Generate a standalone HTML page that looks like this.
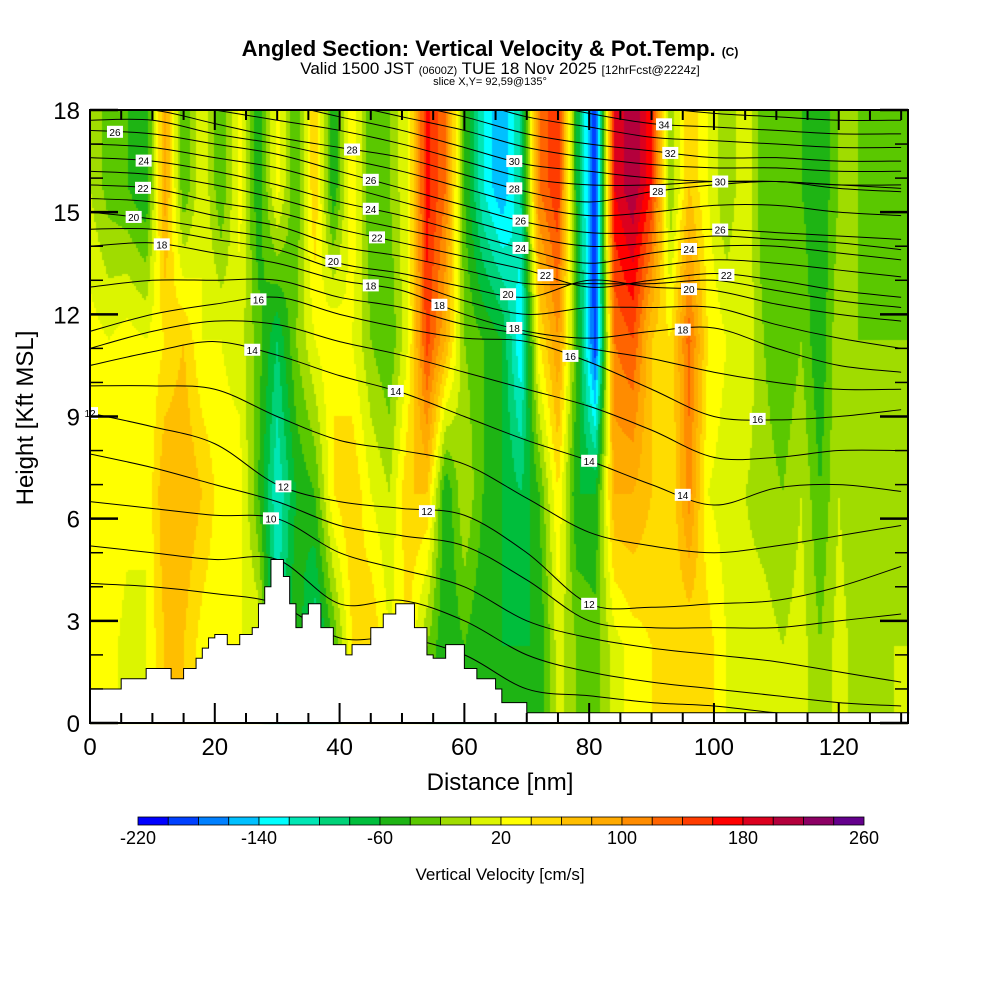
<!DOCTYPE html>
<html><head><meta charset="utf-8"><style>
body{margin:0;background:#fff;width:1000px;height:1000px;overflow:hidden;font-family:"Liberation Sans",sans-serif}
.t{position:absolute;white-space:nowrap;color:#000}
</style></head><body>
<div class="t" style="left:0;width:980px;text-align:center;top:36px;font-size:22px;font-weight:bold">Angled Section: Vertical Velocity &amp; Pot.Temp. <span style="font-size:12px">(C)</span></div>
<div class="t" style="left:0;width:1000px;text-align:center;top:59px;font-size:17px;line-height:19px">Valid 1500 JST <span style="font-size:11px">(0600Z)</span> TUE 18 Nov 2025 <span style="font-size:12px">[12hrFcst@2224z]</span></div>
<div class="t" style="left:0;width:980px;text-align:center;top:76px;font-size:11px">slice X,Y= 92,59@135°</div>
<canvas id="cv" width="1000" height="1000" style="position:absolute;left:0;top:0"></canvas>
<svg id="sv" width="1000" height="1000" style="position:absolute;left:0;top:0"></svg>
<script>
const xs=[0,3,6,9,12,15,18,21,24,27,30,33,36,39,42,45,48,51,54,57,60,63,66,69,72,75,78,81,84,87,90,93,96,99,102,105,108,111,114,117,120,123,126,129,132];
const rowH=[15.75,11.25,6.75,2.25];
const wTop=[0,-30,-40,-60,90,-40,20,-40,30,-60,30,-40,60,-60,40,-40,-20,20,170,120,-40,-120,-160,-100,120,160,-60,-200,180,220,160,-20,60,20,-20,20,-40,-20,-40,-60,-20,-20,-40,-30,-20];
const wUp=[30,20,30,20,40,60,20,20,10,-30,-80,-20,20,40,20,-20,-40,20,150,80,-20,-40,-60,-140,40,100,-40,-200,120,140,60,40,130,40,20,20,-20,-40,-20,-60,0,-20,-20,-20,-20];
const wMid=[40,40,30,20,80,80,60,30,30,-40,-120,-60,-40,40,60,20,0,60,60,-60,0,-40,-60,-80,-40,40,-60,-60,80,80,60,40,110,20,10,0,-10,-20,0,-40,0,-20,-20,-10,0];
const wLow=[30,30,10,20,60,60,30,20,20,20,-100,-40,-100,-40,40,60,20,40,-20,-60,-40,-60,-60,-60,-60,10,-20,-30,10,30,40,40,40,50,20,10,10,0,10,-20,10,-10,-10,0,0];
const levels=[-220,-200,-180,-160,-140,-120,-100,-80,-60,-40,-20,0,20,40,60,80,100,120,140,160,180,200,220,240,260];
const colors=["#0000ff","#0040ff","#0080ff","#00c0ff","#00ffff","#00e6b4","#00d278","#00be3c","#1eb414","#5ac800","#a0dc00","#dcf500","#ffff00","#ffdc00","#ffbe00","#ffaa00","#ff8c00","#ff6400","#ff3c00","#ff0000","#dc001e","#b4003c","#8c0064","#64008c"];
const terrX=[0,5,9,13,15,17,18,19,20,22,24,26,27,28,29,31,32,33,34,35,37,39,41,42,45,47,49,52,54,55,57,60,62,65,66,70,131.2];
const terrH=[1.0,1.3,1.6,1.3,1.6,1.9,2.2,2.5,2.6,2.3,2.6,2.8,3.5,4.0,4.8,4.3,3.5,2.8,3.2,3.5,2.8,2.3,2.0,2.3,2.8,3.2,3.5,2.8,2.0,1.9,2.3,1.6,1.3,1.0,0.6,0.3,0.3];
const thetaVals=[8,9,10,11,12,13,14,15,16,17,18,19,20,21,22,23,24,25,26,27,28,29,30,31,32,33,34,35];
const thetaX=[0,10,20,30,40,50,60,70,80,90,100,110,120,130];
const th8=[4.1,4.0,3.8,3.5,2.5,2.5,2.0,1.0,0.8,0.6,0.5,0.3,0.2,0.2];
const th9=[5.2,5.0,4.8,4.8,3.5,3.6,3.0,2.0,1.5,1.2,1.0,0.8,0.6,0.5];
const th10=[6.5,6.3,6.1,6.0,5.0,4.5,4.0,3.0,2.5,2.2,2.0,1.8,1.5,1.2];
const th11=[7.9,7.5,7.0,6.5,5.8,5.5,5.2,4.2,3.0,2.8,2.8,2.8,3.0,3.2];
const th12=[9.1,8.7,8.2,7.0,6.5,6.3,6.1,5.0,3.5,3.4,3.5,3.6,4.0,4.6];
const th13=[9.9,9.9,9.8,9.0,8.3,8.0,7.6,6.6,5.6,5.2,5.0,5.2,5.5,5.8];
const th14=[10.5,10.9,11.2,10.8,10.2,9.7,9.0,8.3,7.7,7.0,6.4,6.9,7.0,6.8];
const th15=[11.0,11.5,11.8,11.7,11.2,10.8,10.3,9.8,9.3,8.6,7.8,7.8,8.0,8.0];
const th16=[11.5,12.0,12.3,12.5,12.0,11.6,11.3,11.2,10.6,9.8,9.0,8.9,9.0,9.2];
const th17=[12.8,13.0,13.0,13.0,12.5,12.2,11.7,11.4,11.0,10.7,10.3,10.0,9.8,9.8];
const th18=[14.0,14.1,13.8,13.5,13.0,12.7,12.0,11.5,11.3,11.5,11.6,11.0,10.5,10.3];
const th19=[14.5,14.5,14.2,13.9,13.3,13.0,12.4,12.0,12.2,12.2,12.2,11.7,11.3,11.0];
const th20=[15.0,14.8,14.5,14.2,13.5,13.2,12.8,12.5,13.0,12.8,12.7,12.3,12.0,11.8];
const th21=[15.4,15.3,14.9,14.6,14.0,13.7,13.3,12.9,12.9,12.9,13.0,12.7,12.4,12.2];
const th22=[15.8,15.7,15.3,15.0,14.5,14.1,13.7,13.3,12.8,13.0,13.2,13.0,12.7,12.5];
const th23=[16.2,16.1,15.8,15.4,14.9,14.5,14.1,13.6,13.2,13.4,13.6,13.5,13.3,13.1];
const th24=[16.6,16.5,16.2,15.8,15.3,14.9,14.4,13.9,13.5,13.8,14.0,14.0,13.8,13.6];
const th25=[17.0,16.9,16.6,16.3,15.8,15.3,14.8,14.3,14.0,14.1,14.3,14.2,14.1,13.9];
const th26=[17.4,17.3,17.0,16.7,16.2,15.7,15.2,14.7,14.4,14.4,14.5,14.4,14.3,14.2];
const th27=[17.7,17.7,17.3,17.0,16.6,16.2,15.7,15.2,14.9,15.0,15.2,15.2,15.0,14.9];
const th28=[18,18,17.6,17.2,16.9,16.6,16.1,15.6,15.3,15.6,15.8,15.9,15.7,15.6];
const th29=[18.3,18.3,18.0,17.7,17.4,17.0,16.5,16.0,15.8,15.8,15.9,15.9,15.8,15.7];
const th30=[18.5,18.5,18.4,18.2,17.8,17.4,16.9,16.4,16.2,16.0,15.9,15.9,15.8,15.8];
const th31=[18.8,18.8,18.7,18.5,18.2,17.8,17.4,16.9,16.6,16.4,16.3,16.3,16.2,16.2];
const th32=[19,19,19,18.8,18.5,18.2,17.8,17.3,17.0,16.8,16.6,16.6,16.5,16.5];
const th33=[19.5,19.5,19.5,19.3,19,18.6,18.3,17.8,17.5,17.2,17.1,17.0,16.9,16.9];
const th34=[20,20,20,19.8,19.5,19,18.8,18.3,17.9,17.6,17.5,17.4,17.3,17.3];
const th35=[20.5,20.5,20.5,20.3,20,19.6,19.3,18.8,18.4,18.1,17.9,17.8,17.7,17.7];
const thetaArr=[th8,th9,th10,th11,th12,th13,th14,th15,th16,th17,th18,th19,th20,th21,th22,th23,th24,th25,th26,th27,th28,th29,th30,th31,th32,th33,th34,th35];
const labelTheta=[10,12,14,16,18,20,22,24,26,28,30,32,34];
const labelX=[[29],[0,31,54,80],[26,49,80,95],[27,77,107],[11.5,45,56,68,95],[7,39,67,96],[8.5,46,73,102],[8.6,45,69,96],[4,45,69,101],[42,68,91],[68,101],[93],[92]];
const xTicks=[0,20,40,60,80,100,120];
const yTicks=[0,3,6,9,12,15,18];
const cbLabels=[-220,-140,-60,20,100,180,260];

const L=90,R=908,T=110,B=723,XMAX=131.1,YMAX=18;
const sx=v=>L+(R-L)*v/XMAX, sy=v=>B-(B-T)*v/YMAX;
const ix=px=>(px-L)/(R-L)*XMAX, iy=py=>(B-py)/(B-T)*YMAX;
function interp(arrX,arrY,x){if(x<=arrX[0])return arrY[0];for(let i=1;i<arrX.length;i++){if(x<=arrX[i]){const t=(x-arrX[i-1])/(arrX[i]-arrX[i-1]);return arrY[i-1]+t*(arrY[i]-arrY[i-1]);}}return arrY[arrY.length-1];}
function col(v){let k=0;while(k<23&&v>=levels[k+1])k++;return colors[k];}
const rows=[wTop,wUp,wMid,wLow];
const cv=document.getElementById('cv'),cx=cv.getContext('2d');
for(let px=L;px<R;px+=2){const x=ix(px+1);const rv=rows.map(r=>interp(xs,r,x));
 for(let py=T;py<B;py+=2){const h=iy(py+1);let v;
  if(h>=rowH[0])v=rv[0];else if(h<=rowH[3])v=rv[3];else{for(let j=0;j<3;j++){if(h<=rowH[j]&&h>=rowH[j+1]){const t=(rowH[j]-h)/(rowH[j]-rowH[j+1]);v=rv[j]+t*(rv[j+1]-rv[j]);}}}
  cx.fillStyle=col(v);cx.fillRect(px,py,2,2);}}
const NS='http://www.w3.org/2000/svg',sv=document.getElementById('sv');
function el(tag,attrs,parent){const e=document.createElementNS(NS,tag);for(const k in attrs)e.setAttribute(k,attrs[k]);(parent||sv).appendChild(e);return e;}
const defs=el('defs',{});const cp=el('clipPath',{id:'pc'},defs);el('rect',{x:L,y:T,width:R-L,height:B-T},cp);
const cg=el('g',{'clip-path':'url(#pc)'});


thetaArr.forEach((arr,i)=>{
 const pts=thetaX.map((x,j)=>[sx(x),sy(arr[j])]);
 let d='M'+pts[0][0]+','+pts[0][1];
 for(let j=0;j<pts.length-1;j++){const p0=pts[Math.max(0,j-1)],p1=pts[j],p2=pts[j+1],p3=pts[Math.min(pts.length-1,j+2)];
  d+=' C'+(p1[0]+(p2[0]-p0[0])/6)+','+(p1[1]+(p2[1]-p0[1])/6)+' '+(p2[0]-(p3[0]-p1[0])/6)+','+(p2[1]-(p3[1]-p1[1])/6)+' '+p2[0]+','+p2[1];}
 const p=el('path',{d:d,fill:'none',stroke:'#000','stroke-width':1},cg);
 
 
});
let td='M'+sx(0)+','+sy(0);
terrX.forEach((x,i)=>{td+=' L'+sx(x)+','+sy(terrH[i]);if(i<terrX.length-1)td+=' L'+sx(terrX[i+1])+','+sy(terrH[i]);});
td+=' L'+R+','+B+' Z';
const tp=el('path',{d:td,fill:'#fff',stroke:'#000','stroke-width':1});


labelTheta.forEach((th,i)=>{const arr=thetaArr[thetaVals.indexOf(th)];labelX[i].forEach(x=>{const X=sx(x),Y=sy(interp(thetaX,arr,x));
 const g=el('g',{});
 
 
 el('rect',{x:X-8,y:Y-6,width:16,height:12,fill:'#fff'},g);
 const t=el('text',{x:X,y:Y+4,'font-size':10,'text-anchor':'middle','font-family':'Liberation Sans'},g);t.textContent=th;});});
const fr=el('rect',{x:L,y:T,width:R-L,height:B-T,fill:'none',stroke:'#000','stroke-width':2});


for(let v=0;v<=130;v+=5){const X=sx(v),len=v%20==0?20:10;
 el('line',{x1:X,x2:X,y1:B,y2:B-len,stroke:'#000','stroke-width':2});el('line',{x1:X,x2:X,y1:T,y2:T+len,stroke:'#000','stroke-width':2});}
for(let v=1;v<18;v++){if(v%3==0)continue;const Y=sy(v);
 el('line',{x1:L,x2:L+13,y1:Y,y2:Y,stroke:'#000','stroke-width':1.5});el('line',{x1:R,x2:R-13,y1:Y,y2:Y,stroke:'#000','stroke-width':1.5});}
yTicks.forEach(v=>{const Y=sy(v);el('line',{x1:L,x2:L+28,y1:Y,y2:Y,stroke:'#000','stroke-width':2.5});el('line',{x1:R,x2:R-28,y1:Y,y2:Y,stroke:'#000','stroke-width':2.5});
 const t=el('text',{x:80,y:Y+9,'font-size':24,'text-anchor':'end','font-family':'Liberation Sans'});t.textContent=v;
 
 });
xTicks.forEach(v=>{const t=el('text',{x:sx(v),y:755,'font-size':24,'text-anchor':'middle','font-family':'Liberation Sans'});t.textContent=v;
 
 });
const xt=el('text',{x:500,y:790,'font-size':24,'text-anchor':'middle','font-family':'Liberation Sans'});xt.textContent='Distance [nm]';


const yt=el('text',{x:0,y:0,'font-size':24,'text-anchor':'middle','font-family':'Liberation Sans',transform:'translate(33,418) rotate(-90)'});yt.textContent='Height [Kft MSL]';


const CB0=138,CB1=864,w=(CB1-CB0)/24;
colors.forEach((c,i)=>{const r=el('rect',{x:CB0+i*w,y:817,width:w,height:8,fill:c,stroke:'#000','stroke-width':0.8});
 
 });
cbLabels.forEach(v=>{const t=el('text',{x:CB0+(v+220)/20*w,y:844,'font-size':18,'text-anchor':'middle','font-family':'Liberation Sans'});t.textContent=v;
 
 });
const ct=el('text',{x:500,y:880,'font-size':17,'text-anchor':'middle','font-family':'Liberation Sans'});ct.textContent='Vertical Velocity [cm/s]';


</script>
</body></html>
